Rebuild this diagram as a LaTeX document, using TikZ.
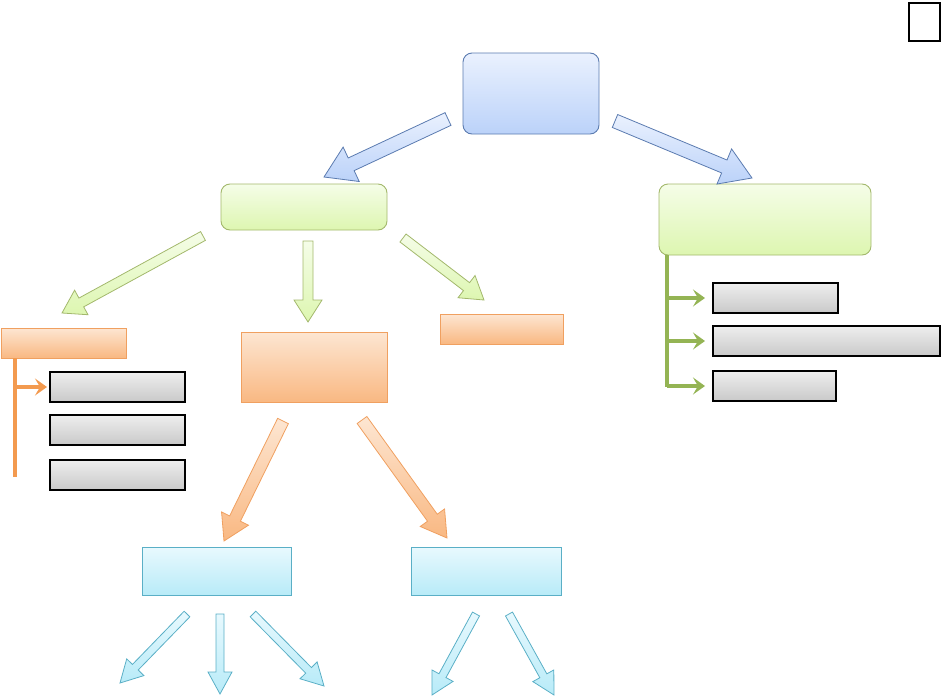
\documentclass[tikz,border=0pt]{standalone}
\usetikzlibrary{calc,arrows.meta}
\definecolor{bluebd}{HTML}{5B7BB0}
\definecolor{bluelt}{HTML}{EAF1FE}
\definecolor{bluedk}{HTML}{BBD2F9}
\definecolor{greenbd}{HTML}{A3B86C}
\definecolor{greenlt}{HTML}{F5FDE8}
\definecolor{greendk}{HTML}{DDF6B0}
\definecolor{greenln}{HTML}{94B454}
\definecolor{orangebd}{HTML}{F0A060}
\definecolor{orangelt}{HTML}{FDE6D2}
\definecolor{orangedk}{HTML}{F9B882}
\definecolor{orangeln}{HTML}{F39A4F}
\definecolor{graylt}{HTML}{EEEEEE}
\definecolor{graydk}{HTML}{C9C9C9}
\definecolor{cyanbd}{HTML}{5AAFC6}
\definecolor{cyanlt}{HTML}{E8F9FE}
\definecolor{cyandk}{HTML}{B8EBF8}
\tikzset{
  box/.style={rectangle, inner sep=0pt, outer sep=0pt, line width=0.9pt},
  bluebox/.style={box, draw=bluebd, rounded corners=9pt, top color=bluelt, bottom color=bluedk},
  greenbox/.style={box, draw=greenbd, rounded corners=9pt, top color=greenlt, bottom color=greendk},
  orangebox/.style={box, draw=orangebd, top color=orangelt, bottom color=orangedk},
  graybox/.style={box, draw=black, line width=1.1pt, top color=graylt, bottom color=graydk},
  cyanbox/.style={box, draw=cyanbd, top color=cyanlt, bottom color=cyandk},
  bluearr/.style={draw=bluebd, line width=0.8pt, top color=bluelt, bottom color=bluedk},
  greenarr/.style={draw=greenbd, line width=0.8pt, top color=greenlt, bottom color=greendk},
  orangearr/.style={draw=orangebd, line width=0.8pt, top color=orangelt, bottom color=orangedk},
  cyanarr/.style={draw=cyanbd, line width=0.8pt, top color=cyanlt, bottom color=cyandk},
  oline/.style={draw=orangeln, line width=3.2pt},
  gline/.style={draw=greenln, line width=3.2pt},
  branchtip/.style={-{Stealth[length=12pt,width=17pt,inset=5pt]}},
}
\newcommand\blkarrow[6]{%
  \coordinate (ba) at ($(#3)!#6!(#2)$);
  \draw[#1] ($(#2)!#4!90:(#3)$) -- ($(ba)!#4!90:(#3)$) -- ($(ba)!#5!90:(#3)$) -- (#3)
    -- ($(ba)!#5!-90:(#3)$) -- ($(ba)!#4!-90:(#3)$) -- ($(#2)!#4!-90:(#3)$) -- cycle;
}
\begin{document}
\begin{tikzpicture}[x=1pt,y=-1pt]
\useasboundingbox (0,0) rectangle (942,699);
% corner square
\node[box, draw=black, line width=1.6pt, minimum width=31pt, minimum height=38pt] (sq) at (924.5,22) {};
% top
\node[bluebox, minimum width=136pt, minimum height=81pt] (top) at (531,93.5) {};
% green
\node[greenbox, minimum width=166pt, minimum height=46pt] (gl) at (304,207) {};
\node[greenbox, minimum width=212pt, minimum height=71pt] (gr) at (765,219.5) {};
% orange
\node[orangebox, minimum width=125pt, minimum height=30pt] (ol) at (63.5,343) {};
\node[orangebox, minimum width=146pt, minimum height=70pt] (om) at (314,367) {};
\node[orangebox, minimum width=123pt, minimum height=30pt] (or) at (501.5,329) {};
% gray left
\node[graybox, minimum width=135pt, minimum height=30pt] (l1) at (117.5,387) {};
\node[graybox, minimum width=135pt, minimum height=30pt] (l2) at (117.5,430) {};
\node[graybox, minimum width=135pt, minimum height=30pt] (l3) at (117.5,475) {};
% gray right
\node[graybox, minimum width=125pt, minimum height=30pt] (r1) at (775.5,298) {};
\node[graybox, minimum width=227pt, minimum height=30pt] (r2) at (826.5,341) {};
\node[graybox, minimum width=123pt, minimum height=30pt] (r3) at (774.5,386) {};
% cyan
\node[cyanbox, minimum width=149pt, minimum height=48pt] (cl) at (216.5,571) {};
\node[cyanbox, minimum width=150pt, minimum height=48pt] (cr) at (486,571) {};
% block arrows
\blkarrow{bluearr}{448,119}{324,177}{7pt}{19pt}{30pt}
\blkarrow{bluearr}{615,121}{752,178}{7pt}{19pt}{30pt}
\blkarrow{greenarr}{203,236}{62,313}{5pt}{14pt}{22pt}
\blkarrow{greenarr}{308,241}{308,322}{5pt}{14pt}{22pt}
\blkarrow{greenarr}{403,238}{484,300}{5pt}{14pt}{22pt}
\blkarrow{orangearr}{283,421}{224,541}{6pt}{15pt}{25pt}
\blkarrow{orangearr}{362,420}{447,538}{6pt}{15pt}{25pt}
\blkarrow{cyanarr}{187,614}{120,683}{4pt}{12pt}{22pt}
\blkarrow{cyanarr}{220,614}{220,694}{4pt}{12pt}{22pt}
\blkarrow{cyanarr}{253,614}{324,686}{4pt}{12pt}{22pt}
\blkarrow{cyanarr}{476,614}{432,695}{4pt}{12pt}{22pt}
\blkarrow{cyanarr}{509,614}{554,695}{4pt}{12pt}{22pt}
% orange connector
\coordinate (oend) at (15,477);
\draw[oline] (oend |- ol.south) -- (oend);
\draw[oline, branchtip, shorten >=3pt] (oend |- l1.west) -- (l1.west);
% green connector
\coordinate (gend) at (667,387);
\draw[gline] (gend |- gr.south) -- (gend);
\draw[gline, branchtip, shorten >=8pt] (gend |- r1.west) -- (r1.west);
\draw[gline, branchtip, shorten >=8pt] (gend |- r2.west) -- (r2.west);
\draw[gline, branchtip, shorten >=8pt] (gend |- r3.west) -- (r3.west);
\end{tikzpicture}
\end{document}
